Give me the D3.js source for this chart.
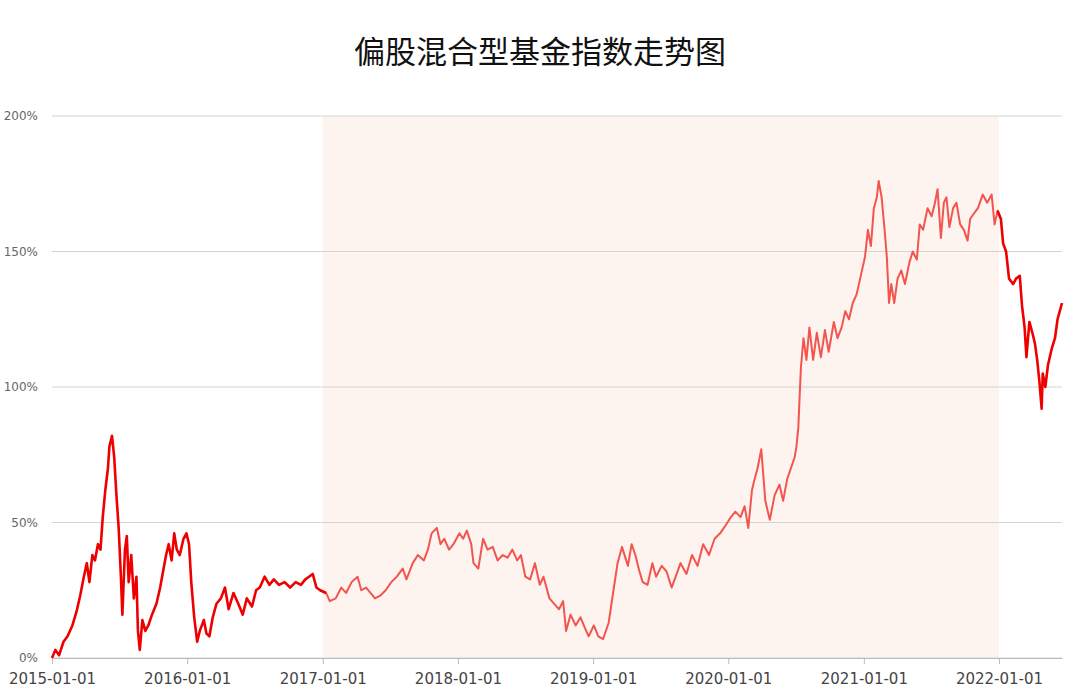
<!DOCTYPE html>
<html><head><meta charset="utf-8">
<script src="https://cdn.jsdelivr.net/npm/d3@7/dist/d3.min.js"></script>
<style>body{margin:0;background:#fff}svg{display:block}</style></head>
<body><svg id="c" width="1080" height="694"></svg>
<script>
const title = "偏股混合型基金指数走势图";
const xTickLabels = ["2015-01-01","2016-01-01","2017-01-01","2018-01-01","2019-01-01","2020-01-01","2021-01-01","2022-01-01"];
const yTickValues = [0,50,100,150,200];
const shadeRange = ["2017-01-01","2022-01-01"];
const dates = [
"2015-01-01","2015-01-10","2015-01-20","2015-02-01","2015-02-12","2015-02-25","2015-03-08","2015-03-18","2015-03-28","2015-04-05","2015-04-12","2015-04-20","2015-04-27","2015-05-05","2015-05-12","2015-05-18","2015-05-25","2015-06-01","2015-06-05","2015-06-12","2015-06-18","2015-06-24","2015-06-30","2015-07-06","2015-07-10","2015-07-17","2015-07-22","2015-07-27","2015-08-03","2015-08-10","2015-08-17","2015-08-21","2015-08-26","2015-09-02","2015-09-10","2015-09-18","2015-09-28","2015-10-10","2015-10-20","2015-10-28","2015-11-05","2015-11-12","2015-11-20","2015-11-27","2015-12-04","2015-12-12","2015-12-22","2015-12-30",
"2016-01-06","2016-01-12","2016-01-20","2016-01-28","2016-02-04","2016-02-15","2016-02-22","2016-03-01","2016-03-10","2016-03-20","2016-04-01","2016-04-12","2016-04-22","2016-05-05","2016-05-18","2016-05-30","2016-06-10","2016-06-24","2016-07-05","2016-07-15","2016-07-28","2016-08-10","2016-08-22","2016-09-05","2016-09-20","2016-10-05","2016-10-20","2016-11-03","2016-11-15","2016-11-25","2016-12-05","2016-12-15","2016-12-25",
"2017-01-10","2017-01-20","2017-02-05","2017-02-20","2017-03-05","2017-03-20","2017-04-05","2017-04-15","2017-04-28","2017-05-10","2017-05-22","2017-06-05","2017-06-20","2017-07-05","2017-07-20","2017-08-05","2017-08-15","2017-09-01","2017-09-15","2017-10-01","2017-10-12","2017-10-22","2017-11-05","2017-11-15","2017-11-25","2017-12-08","2017-12-20",
"2018-01-05","2018-01-15","2018-01-25","2018-02-06","2018-02-12","2018-02-25","2018-03-10","2018-03-22","2018-04-05","2018-04-18","2018-05-02","2018-05-15","2018-05-28","2018-06-10","2018-06-20","2018-07-02","2018-07-15","2018-07-28","2018-08-10","2018-08-20","2018-09-05","2018-09-18","2018-10-01","2018-10-12","2018-10-20","2018-11-01","2018-11-15","2018-11-28","2018-12-10","2018-12-20",
"2019-01-03","2019-01-15","2019-01-28","2019-02-12","2019-02-25","2019-03-08","2019-03-20","2019-04-05","2019-04-15","2019-04-25","2019-05-06","2019-05-15","2019-05-28","2019-06-10","2019-06-20","2019-07-05","2019-07-18","2019-08-01","2019-08-12","2019-08-25","2019-09-10","2019-09-25","2019-10-10","2019-10-25","2019-11-10","2019-11-25","2019-12-10","2019-12-25",
"2020-01-08","2020-01-20","2020-02-03","2020-02-14","2020-02-24","2020-03-05","2020-03-12","2020-03-20","2020-03-30","2020-04-10","2020-04-22","2020-05-05","2020-05-18","2020-05-28","2020-06-08","2020-06-18","2020-06-28","2020-07-03","2020-07-08","2020-07-15","2020-07-22","2020-07-30","2020-08-07","2020-08-17","2020-08-27","2020-09-07","2020-09-18","2020-09-28","2020-10-12","2020-10-22","2020-11-02","2020-11-12","2020-11-22","2020-12-02","2020-12-12","2020-12-22",
"2021-01-04","2021-01-12","2021-01-20","2021-01-28","2021-02-05","2021-02-10","2021-02-18","2021-02-26","2021-03-04","2021-03-10","2021-03-16","2021-03-24","2021-04-02","2021-04-12","2021-04-22","2021-05-04","2021-05-13","2021-05-24","2021-06-01","2021-06-10","2021-06-22","2021-07-03","2021-07-12","2021-07-19","2021-07-28","2021-08-05","2021-08-12","2021-08-20","2021-08-30","2021-09-08","2021-09-18","2021-09-28","2021-10-08","2021-10-15","2021-10-25","2021-11-05","2021-11-18","2021-11-30","2021-12-12","2021-12-20","2021-12-28",
"2022-01-06","2022-01-12","2022-01-20","2022-01-28","2022-02-08","2022-02-16","2022-02-26","2022-03-04","2022-03-11","2022-03-16","2022-03-24","2022-04-01","2022-04-08","2022-04-14","2022-04-20","2022-04-26","2022-04-29","2022-05-06","2022-05-13","2022-05-23","2022-06-01","2022-06-08","2022-06-14","2022-06-20"];
const values = [
0,3,1,6,8,12,17,23,30,35,28,38,36,42,40,52,62,70,78,82,74,60,48,30,16,40,45,28,38,22,30,10,3,14,10,12,16,20,26,32,38,42,36,46,40,38,44,46,
42,28,15,6,10,14,9,8,15,20,22,26,18,24,20,16,22,19,25,26,30,27,29,27,28,26,28,27,29,30,31,26,25,
24,21,22,26,24,28,30,25,26,24,22,23,25,28,30,33,29,35,38,36,40,46,48,42,44,40,42,46,
44,47,42,35,33,44,40,41,36,38,37,40,36,38,30,29,35,27,30,22,20,18,21,10,16,12,15,11,8,12,
8,7,13,25,35,41,34,42,38,32,28,27,35,30,34,32,26,30,35,31,38,34,42,38,44,46,49,52,
54,52,56,48,62,66,70,77,58,51,60,64,58,66,70,74,78,85,107,118,110,122,110,120,111,121,113,124,118,122,128,125,131,134,140,
148,158,152,166,170,176,170,158,148,131,138,131,140,143,138,146,150,147,160,158,166,163,168,173,155,168,170,159,166,168,160,158,154,162,164,166,171,168,171,160,165,
162,153,150,140,138,140,141,130,122,111,124,120,116,110,102,92,105,100,108,114,118,125,128,131];

const svg = d3.select("#c");
const parse = d3.timeParse("%Y-%m-%d");
const data = dates.map((d,i)=>({d:parse(d), v:values[i]}));
const x = d3.scaleTime().domain([parse("2015-01-01"), parse("2022-06-20")]).range([52, 1062]);
const y = d3.scaleLinear().domain([0,200]).range([658,116]);

svg.append("text").attr("x",540).attr("y",63).attr("text-anchor","middle")
  .attr("font-family","Noto Sans CJK SC").attr("font-size",31).attr("fill","#111").text(title);

svg.append("rect").attr("x",x(parse(shadeRange[0]))).attr("y",y(200))
  .attr("width",x(parse(shadeRange[1]))-x(parse(shadeRange[0]))).attr("height",y(0)-y(200)).attr("fill","#fdf4ef");

yTickValues.forEach(t=>{
  svg.append("line").attr("x1",52).attr("x2",1062).attr("y1",y(t)).attr("y2",y(t))
    .attr("stroke","#d4d4d4").attr("stroke-width",1);
  svg.append("text").attr("x",38).attr("y",y(t)+4).attr("text-anchor","end")
    .attr("font-family","DejaVu Sans").attr("font-size",12).attr("fill","#666").text(t+"%");
});

const xa = svg.append("g").attr("transform","translate(0,658)")
  .call(d3.axisBottom(x).tickValues(xTickLabels.map(parse)).tickFormat(d3.timeFormat("%Y-%m-%d")).tickSize(6).tickSizeOuter(0));
xa.select(".domain").attr("stroke","#bbb");
xa.selectAll(".tick line").attr("stroke","#bbb");
xa.selectAll("text").attr("font-family","DejaVu Sans").attr("font-size",15).attr("fill","#444").attr("dy","1.1em");

const line = d3.line().x(d=>x(d.d)).y(d=>y(d.v));
const s0 = parse(shadeRange[0]), s1 = parse(shadeRange[1]);
let i0 = data.findIndex(d=>d.d>=s0), i1 = data.findIndex(d=>d.d>=s1);
const seg1 = data.slice(0,i0+1), seg2 = data.slice(i0-1,i1+1), seg3 = data.slice(i1-1);
svg.append("path").datum(seg2).attr("d",line).attr("fill","none").attr("stroke","#f2554f").attr("stroke-width",2).attr("stroke-linejoin","round");
[seg1,seg3].forEach(s=>svg.append("path").datum(s).attr("d",line).attr("fill","none").attr("stroke","#ee0000").attr("stroke-width",2.6).attr("stroke-linejoin","round"));
</script></body></html>
